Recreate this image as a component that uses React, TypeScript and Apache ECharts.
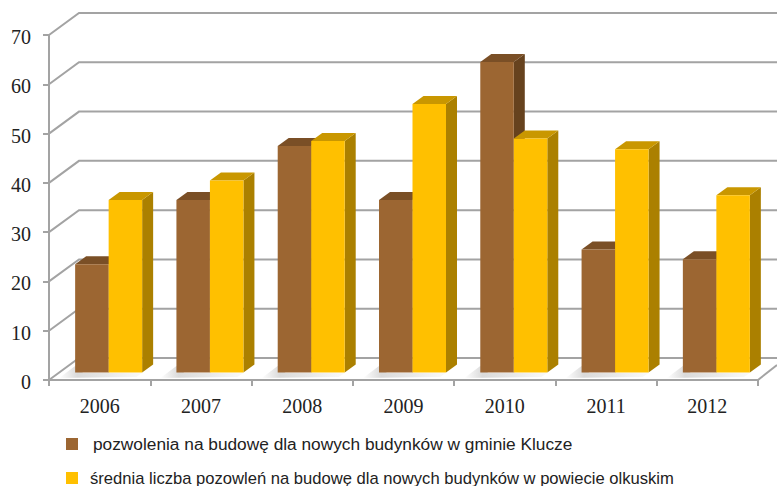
import React, { useEffect, useRef } from "react";
import * as echarts from "echarts";

const years = ["2006", "2007", "2008", "2009", "2010", "2011", "2012"];
const permitsKlucze = [22, 35, 46, 35, 63, 25, 23];
const permitsOlkusz = [35, 39, 47, 54.5, 47.5, 45.3, 36];
const yTicks = [0, 10, 20, 30, 40, 50, 60, 70];
const nameA = "pozwolenia na budowę dla nowych budynków w gminie Klucze";
const nameB = "średnia liczba pozowleń na budowę dla nowych budynków w powiecie olkuskim";

const GRID = "#a3a3a3";

const makeBar = (offsetX: number, front: string, top: string, side: string) => (params: any, api: any) => {
  const p = api.coord([api.value(0), api.value(1)]);
  const base = api.coord([api.value(0), 0]);
  const w = 33.5;
  const shiftY = -7.4;
  const dx = 11;
  const dy = -8;
  const x0 = p[0] + offsetX;
  const x1 = x0 + w;
  const yt = p[1] + shiftY;
  const yb = base[1] + shiftY;
  return {
    type: "group",
    children: [
      { type: "polygon", shape: { points: [[x1, yt], [x1 + dx, yt + dy], [x1 + dx, yb + dy], [x1, yb]] }, style: { fill: side } },
      { type: "polygon", shape: { points: [[x0, yt], [x0 + dx, yt + dy], [x1 + dx, yt + dy], [x1, yt]] }, style: { fill: top } },
      { type: "rect", shape: { x: x0, y: yt, width: w, height: yb - yt }, style: { fill: front } },
    ],
  };
};

const renderWall = (params: any, api: any) => {
  const v = api.value(1);
  const p = api.coord([0, v]);
  const rect = params.coordSys;
  const left = rect.x;
  const backX = left + 30;
  const backY = p[1] - 22;
  const st = { stroke: GRID, lineWidth: 2, fill: "none" };
  const children: any[] = [
    { type: "polyline", shape: { points: [[left, p[1]], [backX, backY], [777, backY]] }, style: st },
  ];
  if (v === 0) {
    children.push({ type: "line", shape: { x1: left + rect.width, y1: p[1], x2: 777, y2: p[1] - 15 }, style: st });
  }
  return { type: "group", children };
};

const renderShadow = (params: any, api: any) => {
  const p = api.coord([api.value(0), 0]);
  const x0 = p[0] - 24.5;
  const x1 = p[0] + 42.5;
  const y = p[1];
  return {
    type: "polygon",
    shape: { points: [[x0 - 16, y - 2], [x0, y - 14], [x0 + 8, y - 7], [x1, y - 7], [x1 - 6, y - 3]] },
    style: {
      fill: new echarts.graphic.LinearGradient(0, 0, 1, 0, [
        { offset: 0, color: "rgba(218,218,218,0)" },
        { offset: 0.22, color: "rgba(218,218,218,1)" },
        { offset: 0.6, color: "rgba(232,232,232,1)" },
        { offset: 1, color: "rgba(240,240,240,0.4)" },
      ]),
    },
  };
};

const legendBase = {
  orient: "horizontal" as const,
  icon: "rect",
  itemWidth: 12,
  itemHeight: 12,
  selectedMode: false,
  padding: 0,
};

export default function App() {
  const ref = useRef<HTMLDivElement>(null);
  useEffect(() => {
    const chart = echarts.init(ref.current!, undefined, { renderer: "svg" });
    chart.setOption({
      animation: false,
      backgroundColor: "#fff",
      grid: { left: 49, right: 19, top: 35, height: 345 },
      legend: [
        {
          ...legendBase,
          data: [nameA],
          left: 66,
          top: 435.5,
          textStyle: { fontFamily: "Liberation Sans", fontSize: 17.3, color: "#222", padding: [0, 0, 0, 10] },
        },
        {
          ...legendBase,
          data: [nameB],
          left: 66,
          top: 469.5,
          textStyle: { fontFamily: "Liberation Sans", fontSize: 16.6, color: "#222", padding: [0, 0, 0, 7] },
        },
      ],
      xAxis: {
        type: "category",
        data: years,
        axisLine: { lineStyle: { color: GRID, width: 2 } },
        axisTick: { show: true, alignWithLabel: false, length: 6, lineStyle: { color: GRID, width: 2 } },
        axisLabel: { fontFamily: "Liberation Serif", fontSize: 20, color: "#222", margin: 16 },
      },
      yAxis: {
        type: "value",
        min: 0,
        max: 70,
        interval: 10,
        splitLine: { show: false },
        axisLine: { show: true, lineStyle: { color: GRID, width: 2 } },
        axisTick: { show: true, length: 6, lineStyle: { color: GRID, width: 2 } },
        axisLabel: {
          fontFamily: "Liberation Serif",
          color: "#222",
          margin: 18,
          formatter: "{n|{value}}",
          rich: { n: { fontFamily: "Liberation Serif", fontSize: 20, color: "#222", padding: [4, 0, 0, 0] } },
        },
      },
      series: [
        { type: "custom", name: "wall", silent: true, z: 1, renderItem: renderWall, encode: { x: 0, y: 1 }, data: yTicks.map((t) => [0, t]) },
        { type: "custom", name: "shadow", silent: true, z: 2, renderItem: renderShadow, encode: { x: 0, y: 1 }, data: years.map((_, i) => [i, 0]) },
        {
          type: "custom",
          name: nameA,
          z: 3,
          itemStyle: { color: "#9C6632" },
          renderItem: makeBar(-24.5, "#9C6632", "#7A4F26", "#66421E"),
          encode: { x: 0, y: 1 },
          data: permitsKlucze.map((v, i) => [i, v]),
        },
        {
          type: "custom",
          name: nameB,
          z: 4,
          itemStyle: { color: "#FFC000" },
          renderItem: makeBar(9, "#FFC000", "#C99700", "#AB8000"),
          encode: { x: 0, y: 1 },
          data: permitsOlkusz.map((v, i) => [i, v]),
        },
      ],
    });
    return () => chart.dispose();
  }, []);
  return <div ref={ref} style={{ position: "absolute", left: 0, top: 0, width: 777, height: 486 }} />;
}
